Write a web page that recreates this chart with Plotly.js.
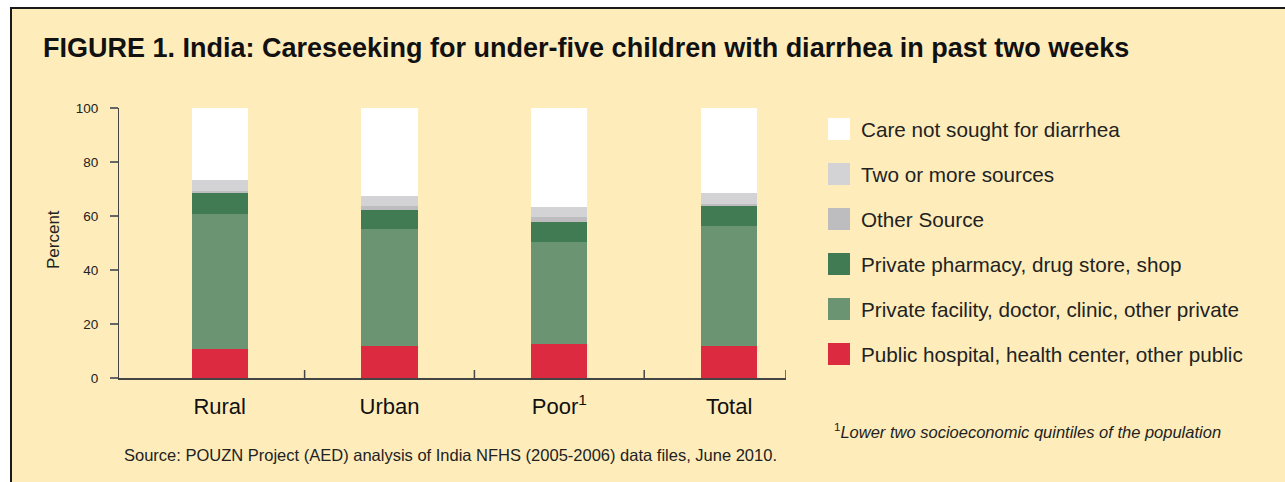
<!DOCTYPE html>
<html>
<head>
<meta charset="utf-8">
<script src="https://cdn.plot.ly/plotly-3.0.1.min.js"></script>
<style>
  html, body { margin: 0; padding: 0; background: #ffffff; }
  #chart { width: 1285px; height: 482px; }
</style>
</head>
<body>
<div id="chart"></div>
<script>
// Careseeking categories (x axis)
const categories = ['Rural', 'Urban', 'Poor<sup>1</sup>', 'Total'];

// Stacked shares in percent, bottom to top
const publicCare    = [10.9, 12.0, 12.6, 11.7];
const privateFacil  = [49.8, 43.2, 37.9, 44.7];
const privatePharm  = [8.0, 7.1, 7.4, 7.3];
const otherSource   = [0.5, 1.5, 1.6, 0.6];
const twoOrMore     = [4.2, 3.7, 3.7, 4.4];
const notSought     = [26.6, 32.5, 36.8, 31.3];

const seriesNames = [
  'Public hospital, health center, other public',
  'Private facility, doctor, clinic, other private',
  'Private pharmacy, drug store, shop',
  'Other Source',
  'Two or more sources',
  'Care not sought for diarrhea'
];
const seriesValues = [publicCare, privateFacil, privatePharm, otherSource, twoOrMore, notSought];
const seriesColors = ['#dc2a41', '#6a9472', '#407b54', '#bdbdbf', '#d3d3d5', '#ffffff'];

const yTicks = [0, 20, 40, 60, 80, 100];

// Page geometry
const W = 1285, H = 482;
const M = { l: 119, r: 499, t: 108, b: 104 };
const plotW = W - M.l - M.r, plotH = H - M.t - M.b;
const px = x => (x - M.l) / plotW;          // pixel -> paper x
const py = y => (H - M.b - y) / plotH;      // pixel -> paper y

const FONT = 'Liberation Sans, Arial, Helvetica, sans-serif';
const BG = '#feedbb';

const traces = seriesValues.map((vals, i) => ({
  type: 'bar',
  name: seriesNames[i],
  x: categories,
  y: vals,
  marker: { color: seriesColors[i], line: { width: 0 } },
  width: 0.33,
  showlegend: false,
  hoverinfo: 'name+y'
}));

const shapes = [
  // framed panel
  { type: 'rect', xref: 'paper', yref: 'paper', layer: 'below',
    x0: px(11), x1: px(W + 20), y0: py(H + 20), y1: py(8),
    fillcolor: BG, line: { color: '#1a1a1a', width: 2 } }
];

// short upward ticks separating the categories
[0.5, 1.5, 2.5, 3.335].forEach(v => shapes.push({
  type: 'line', xref: 'x', yref: 'paper',
  x0: v, x1: v, y0: 0, y1: 8 / plotH,
  line: { color: '#444', width: 1.5 }
}));

const annotations = [
  { text: 'Percent', textangle: -90, xref: 'paper', yref: 'paper',
    x: px(53), y: py(240), xanchor: 'center', yanchor: 'middle', showarrow: false,
    font: { family: FONT, size: 17, color: '#222' } },
  { text: '<sup>1</sup><i>Lower two socioeconomic quintiles of the population</i>',
    xref: 'paper', yref: 'paper', x: px(832), y: py(431),
    xanchor: 'left', yanchor: 'middle', showarrow: false,
    font: { family: FONT, size: 16.5, color: '#222' } },
  { text: 'Source: POUZN Project (AED) analysis of India NFHS (2005-2006) data files, June 2010.',
    xref: 'paper', yref: 'paper', x: px(122), y: py(455),
    xanchor: 'left', yanchor: 'middle', showarrow: false,
    font: { family: FONT, size: 16.5, color: '#222' } }
];

// legend: swatch + label, top entry is the top of the stack
const legendTop = 129, legendStep = 45;
for (let k = 0; k < seriesNames.length; k++) {
  const i = seriesNames.length - 1 - k;
  const cy = legendTop + k * legendStep;
  shapes.push({
    type: 'rect', xref: 'paper', yref: 'paper',
    x0: px(828), x1: px(850), y0: py(cy + 11), y1: py(cy - 11),
    fillcolor: seriesColors[i], line: { width: 0 }
  });
  annotations.push({
    text: seriesNames[i], xref: 'paper', yref: 'paper',
    x: px(859), y: py(cy), xanchor: 'left', yanchor: 'middle', showarrow: false,
    font: { family: FONT, size: 20.7, color: '#222' }
  });
}

const layout = {
  width: W, height: H,
  margin: M,
  paper_bgcolor: '#ffffff',
  plot_bgcolor: 'rgba(0,0,0,0)',
  barmode: 'stack',
  title: {
    text: '<b>FIGURE 1. India: Careseeking for under-five children with diarrhea in past two weeks</b>',
    xref: 'container', yref: 'container',
    x: 43 / W, xanchor: 'left', y: 1 - 48 / H, yanchor: 'middle',
    font: { family: FONT, size: 27, color: '#111' }
  },
  xaxis: {
    type: 'category',
    range: [-0.593, 3.335],
    showline: true, linecolor: '#444', linewidth: 1.5,
    ticks: '', showgrid: false, zeroline: false,
    tickfont: { family: FONT, size: 22, color: '#111' },
    ticklabelstandoff: 8,
    fixedrange: true
  },
  yaxis: {
    range: [0, 100], tickvals: yTicks,
    showline: true, linecolor: '#444', linewidth: 1.5,
    ticks: 'outside', ticklen: 7.5, tickwidth: 1.5, tickcolor: '#666',
    ticklabelstandoff: 9,
    showgrid: false, zeroline: false,
    tickfont: { family: FONT, size: 13.5, color: '#222' },
    fixedrange: true
  },
  yaxis2: {
    overlaying: 'y', side: 'left', anchor: 'x',
    range: [0, 100], tickvals: yTicks,
    ticks: 'inside', ticklen: 11, tickwidth: 1.5, tickcolor: '#666',
    showticklabels: false, showline: false, showgrid: false, zeroline: false,
    fixedrange: true
  },
  shapes: shapes,
  annotations: annotations,
  showlegend: false
};

Plotly.newPlot('chart', traces, layout, { displayModeBar: false, staticPlot: true });
</script>
</body>
</html>
